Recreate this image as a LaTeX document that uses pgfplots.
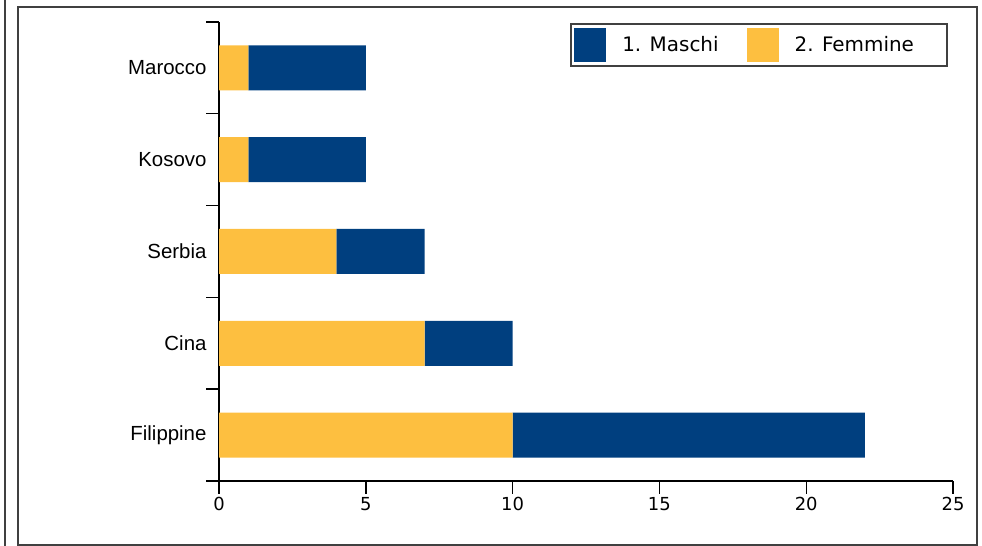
\documentclass[border=0pt]{standalone}
\usepackage{fontspec}
\setmainfont{DejaVu Sans}
\newfontfamily\labfont{Liberation Sans}
\usepackage{pgfplots}
\pgfplotsset{compat=1.18}
\definecolor{mblue}{RGB}{0,63,127}
\definecolor{fyel}{RGB}{253,191,64}
\definecolor{framec}{RGB}{64,64,64}
\begin{document}
\begin{tikzpicture}
\useasboundingbox (0,0) rectangle (982bp,546bp);
\draw[framec, line width=1.3bp] (5bp,0) -- (5bp,546bp);
\draw[framec, line width=1.3bp] (18bp,1bp) rectangle (977bp,539bp);
\begin{axis}[
  at={(219bp,65bp)}, anchor=south west,
  scale only axis, width=734bp, height=459bp,
  xbar stacked, bar width=45bp,
  xmin=0, xmax=25, ymin=-0.5, ymax=4.5,
  axis x line=bottom, axis y line=left,
  axis line style={-, line width=1.4bp, black},
  tick style={line width=1.4bp, black},
  xtick={0,5,...,25},
  ytick={-0.5,0.5,1.5,2.5,3.5,4.5},
  yticklabels={},
  extra y ticks={0,1,2,3,4},
  extra y tick labels={Filippine,Cina,Serbia,Kosovo,Marocco},
  extra y tick style={tick style={draw=none}},
  tick align=outside,
  major tick length=13bp,
  /pgf/number format/assume math mode=true,
  xticklabel style={font=\fontsize{18}{18}\selectfont},
  yticklabel style={font=\labfont\fontsize{20.5}{20.5}\selectfont, xshift=4bp},
  legend style={at={(0.993,0.998)}, anchor=north east, draw=framec,
    line width=1.8bp, inner xsep=3bp, inner ysep=4bp,
    font=\fontsize{20}{22}\selectfont,
    /tikz/every odd column/.append style={column sep=14bp},
    /tikz/every even column/.append style={column sep=26bp}},
  legend columns=2,
  legend cell align=left,
  legend image code/.code={\fill[#1] (0bp,-17bp) rectangle (32bp,17bp);},
  reverse legend,
]
\addplot[fill=fyel, draw=none] coordinates {(10,0) (7,1) (4,2) (1,3) (1,4)};
\addlegendentry{2. Femmine\hspace*{28bp}}
\addplot[fill=mblue, draw=none] coordinates {(12,0) (3,1) (3,2) (4,3) (4,4)};
\addlegendentry{1. Maschi}
\end{axis}
\end{tikzpicture}
\end{document}
